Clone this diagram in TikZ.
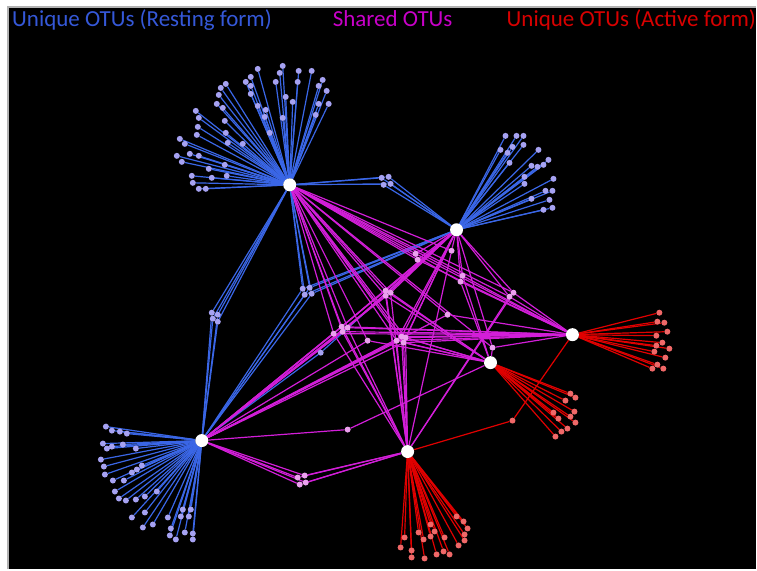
\documentclass[tikz,border=0pt]{standalone}
\usepackage{fontspec}
\setmainfont{Carlito}
\pgfdeclarelayer{canvas}
\pgfdeclarelayer{edges}
\pgfsetlayers{canvas,edges,main}
\definecolor{restblue}{HTML}{3A66E6}
\definecolor{restleaf}{HTML}{A6A2F2}
\definecolor{sharedmag}{HTML}{D21ED8}
\definecolor{sharedleaf}{HTML}{EBA0EE}
\definecolor{actred}{HTML}{E00000}
\definecolor{actleaf}{HTML}{F06868}
\definecolor{titleblue}{HTML}{3558D8}
\definecolor{titlemag}{HTML}{C800C8}
\definecolor{titlered}{HTML}{D80000}

\begin{document}
\begin{tikzpicture}[x=1pt,y=-1pt,
  hub/.style={circle,fill=white,inner sep=0pt,minimum size=13pt},
  leafdot/.style={circle,inner sep=0pt,minimum size=6pt,fill=#1},
  bline/.style={draw=restblue,line width=1.2pt},
  mline/.style={draw=sharedmag,line width=1.2pt},
  rline/.style={draw=actred,line width=1.2pt},
  title/.style={anchor=base west,inner sep=0pt,font=\fontsize{23}{27}\selectfont}]

% canvas
\begin{pgfonlayer}{canvas}
  \fill[white] (0,0) rectangle (757,570);
  \fill[black] (8,7) rectangle (757,570);
  \draw[gray!60,line width=1.5pt] (8,570) -- (8,7) -- (757,7);
\end{pgfonlayer}
\useasboundingbox (0,0) rectangle (757,570);

% legend
\node[title,text=titleblue] (tRest) at (12,27) {Unique OTUs (Resting form)};
\node[title,text=titlemag] (tShared) at (333,27) {Shared OTUs};
\node[title,text=titlered] (tAct) at (507,27) {Unique OTUs (Active form)};

% hubs
\node[hub] (H1) at (290,185) {};
\node[hub] (H2) at (457,230) {};
\node[hub] (H3) at (202,441) {};
\node[hub] (A1) at (573,335) {};
\node[hub] (A2) at (491,363) {};
\node[hub] (A3) at (408,452) {};

% unique OTUs of each hub
\foreach \hubname/\grp/\lcol/\lsty/\pts in {
  H1/ua/restleaf/bline/{258/69,283/66,280/73,299/71,312/71,251/77,246/82,226/84,221/88,251/86,276/82,298/82,323/80,319/86,327/91,219/95,251/94,286/97,293/102,329/104,319/104,196/111,217/104,223/108,258/106,266/110,265/117,283/118,316/115,199/118,225/121,198/127,226/133,197/135,270/133,180/139,185/144,228/143,243/144,177/156,190/154,199/156,182/162,225/165,209/169,192/176,212/178,227/176,193/183,199/189,206/189},
  H2/ub/restleaf/bline/{506/136,517/136,524/136,501/150,513/147,524/145,508/153,539/150,510/163,549/160,532/166,538/167,544/165,525/177,554/179,525/184,546/191,553/191,532/199,550/200,544/210,553/208},
  H3/uc/restleaf/bline/{106/427,112/431,120/432,127/434,103/444,107/449,112/447,123/445,136/449,101/460,104/467,105/475,142/466,137/470,132/473,113/481,124/481,115/492,157/492,119/499,126/501,136/500,145/497,145/513,132/518,168/518,183/510,191/510,181/517,189/517,143/528,153/525,171/529,170/536,176/540,185/533,193/534,193/540},
  A1/ud/actleaf/rline/{660/313,658/322,665/323,668/332,657/336,663/343,657/346,670/349,655/352,666/358,658/365,653/369,664/369},
  A2/ue/actleaf/rline/{571/394,576/398,566/401,575/412,554/413,559/419,571/417,576/423,568/429,562/432,556/437},
  A3/uf/actleaf/rline/{457/517,464/522,468/529,431/525,419/533,435/532,405/538,424/540,431/537,445/538,465/535,465/541,459/546,401/548,412/551,444/552,437/555,450/555,412/558,425/559}}
{
  \foreach \x/\y [count=\i] in \pts {
    \node[leafdot=\lcol] (\grp-\i) at (\x,\y) {};
    \begin{pgfonlayer}{edges}
      \draw[\lsty] (\hubname) -- (\grp-\i);
    \end{pgfonlayer}
  }
}

% OTUs shared by several hubs
\foreach \grp/\lcol/\lsty/\pts/\hubs in {
  sb1/restleaf/bline/{382/178,389/177,384/185,391/184}/{H1,H2},
  sb2/restleaf/bline/{303/289,310/288,305/295,312/294}/{H1,H2,H3},
  sb3/restleaf/bline/{212/313,218/315,213/319,218/322}/{H1,H3},
  sb4/restleaf/bline/{321/353}/{H3,H2},
  sm1/sharedleaf/mline/{416/254,418/260}/{H1,H2,A1},
  sm2/sharedleaf/mline/{452/251}/{H1,H2,A3},
  sm3/sharedleaf/mline/{463/276,461/282}/{H1,H2,A1,A2},
  sm4/sharedleaf/mline/{386/291,391/293,386/296}/{H1,H2,H3,A2,A3},
  sm5/sharedleaf/mline/{510/297,514/293}/{H1,H2,A1,A3},
  sm6/sharedleaf/mline/{448/315}/{H1,H3,A1},
  sm7/sharedleaf/mline/{342/327,348/328,343/332,334/334}/{H1,H2,H3,A1,A3},
  sm8/sharedleaf/mline/{368/341}/{H1,H3,A2},
  sm9/sharedleaf/mline/{397/341,402/337,406/338,404/343}/{H1,H2,H3,A1,A2,A3},
  sm10/sharedleaf/mline/{493/348}/{H1,H2,A1,A2},
  sm11/sharedleaf/mline/{348/430}/{H3,A2},
  sm12/sharedleaf/mline/{298/478,305/476,300/485,306/483}/{H3,A3},
  sr1/actleaf/rline/{513/421}/{A1,A3}}
{
  \foreach \x/\y [count=\i] in \pts {
    \node[leafdot=\lcol] (\grp-\i) at (\x,\y) {};
    \begin{pgfonlayer}{edges}
      \foreach \h in \hubs { \draw[\lsty] (\h) -- (\grp-\i); }
    \end{pgfonlayer}
  }
}
\end{tikzpicture}
\end{document}
